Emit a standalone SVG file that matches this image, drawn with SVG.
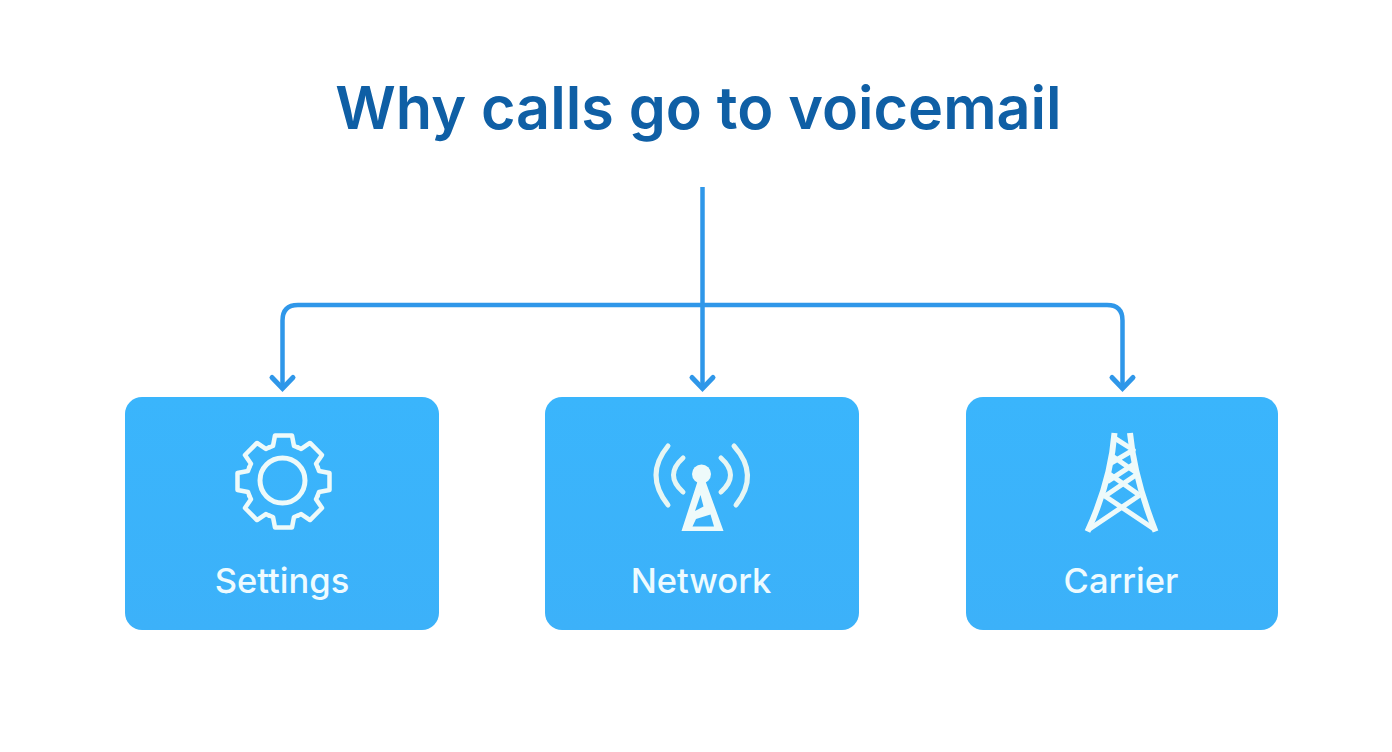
<svg xmlns="http://www.w3.org/2000/svg" xmlns:xlink="http://www.w3.org/1999/xlink" width="1392" height="752" viewBox="0 0 1392 752">
<style>
.title{font:600 59.300px Inter,"Liberation Sans",sans-serif;fill:#0f5fa5;text-anchor:middle}
.label{font:500 34.500px Inter,"Liberation Sans",sans-serif;fill:#eefbff;text-anchor:middle}
.box{fill:url(#boxfill)}
.conn{fill:none;stroke:#2f97e9;stroke-width:4.500;stroke-linejoin:round}
.icon{fill:none;stroke:#eefafa;stroke-width:4.500;stroke-linejoin:round;stroke-linecap:round}
</style>
<defs>
<linearGradient id="boxfill" x1="0" y1="0" x2="0" y2="1"><stop offset="0" stop-color="#3ab5fc"/><stop offset="1" stop-color="#3cb1f9"/></linearGradient>
<marker id="arrow" markerUnits="userSpaceOnUse" viewBox="-16 -16 32 32" markerWidth="32" markerHeight="32" refX="0" refY="0" orient="auto"><path d="M-11,-10.500 L0,0 L-11,10.500" fill="none" stroke="#2f97e9" stroke-width="5" stroke-linecap="round" stroke-linejoin="miter"/></marker>
<path id="tooth" d="M-14.200,-34.200 L-10.500,-35.500 L-8.500,-46 H8.500 L10.500,-35.500 L14.200,-34.200"/>
</defs>
<rect width="1392" height="752" fill="#fff"/>
<text class="title" x="698.500" y="129">Why calls go to voicemail</text>
<g id="connectors">
<path class="conn" d="M702.500,187 V388.500" marker-end="url(#arrow)"/>
<path class="conn" d="M702.500,305 H298 Q282.500,305 282.500,320.500 V388.500" marker-end="url(#arrow)"/>
<path class="conn" d="M702.500,305 H1107 Q1122.500,305 1122.500,320.500 V388.500" marker-end="url(#arrow)"/>
</g>
<g id="node-settings">
<rect class="box" x="125" y="397" width="314" height="233" rx="17"/>
<g class="icon" transform="translate(283.500 481.500)">
<use xlink:href="#tooth"/><use xlink:href="#tooth" transform="rotate(45)"/><use xlink:href="#tooth" transform="rotate(90)"/><use xlink:href="#tooth" transform="rotate(135)"/><use xlink:href="#tooth" transform="rotate(180)"/><use xlink:href="#tooth" transform="rotate(225)"/><use xlink:href="#tooth" transform="rotate(270)"/><use xlink:href="#tooth" transform="rotate(315)"/>
<circle cx="-1" cy="-1" r="22.500" stroke-width="5"/>
</g>
<text class="label" x="282" y="592.500">Settings</text>
</g>
<g id="node-network">
<rect class="box" x="545" y="397" width="314" height="233" rx="17"/>
<g class="icon">
<path d="M668,446 Q644,475 668,505M683,458 Q664,475 683,492M734,446 Q760,475 736,505M721,458 Q740,475 721,492" stroke="#e6f6f4" stroke-width="5"/>
<circle cx="701.500" cy="474" r="9.500" fill="#eefafa" stroke="none"/>
<path fill="#eefafa" fill-rule="evenodd" stroke="none" d="M698,480 H705 L723.500,531 H681.500 Z M700.500,495 L695,511 L703.500,506.500 Z M692.500,526.500 L696,519 L710.500,514.500 L714,526.500 Z"/>
</g>
<text class="label" x="701" y="592.500">Network</text>
</g>
<g id="node-carrier">
<rect class="box" x="966" y="397" width="312" height="233" rx="17"/>
<g class="icon" style="stroke-linecap:butt">
<path d="M1114.500,433 C1112,465 1102,500 1087.500,531.500 M1130,433 C1133,465 1143,500 1155.500,531.500" stroke-width="6"/>
<path d="M1115,438.300 L1133.300,450 L1110.700,463.300 M1110.700,455 L1135,471.700 M1135,463.300 L1107.300,481.700 M1108.300,473.300 L1139.300,495 M1136,475 L1103.300,497.300 M1103.300,495 L1155.500,530 M1140,495 L1088,530" stroke-width="5"/>
</g>
<text class="label" x="1121" y="592.500">Carrier</text>
</g>
</svg>
